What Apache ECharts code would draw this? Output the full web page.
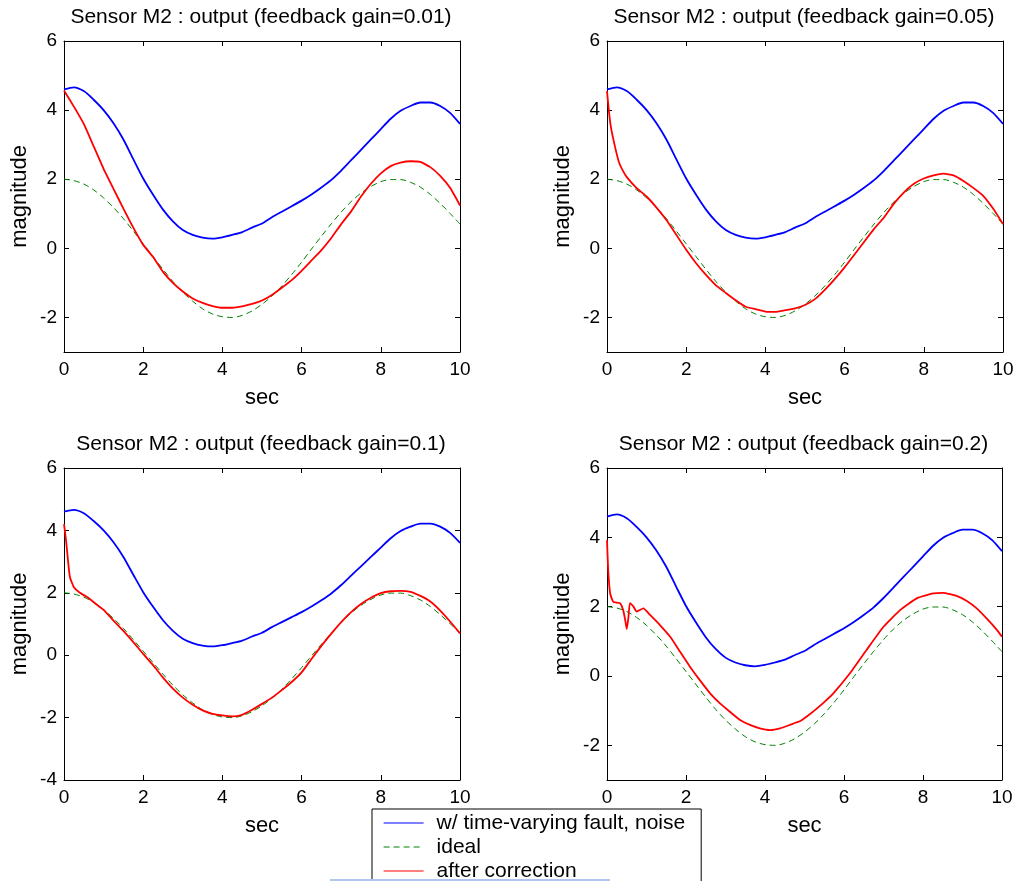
<!DOCTYPE html>
<html><head><meta charset="utf-8">
<script src="https://cdn.jsdelivr.net/npm/echarts@6/dist/echarts.min.js"></script>
<style>html,body{margin:0;padding:0;background:#fff}#c{width:1018px;height:881px}</style>
</head><body><div id="c"></div>
<script>
// ---- data ----
const panelTitles = [
  'Sensor M2 : output (feedback gain=0.01)',
  'Sensor M2 : output (feedback gain=0.05)',
  'Sensor M2 : output (feedback gain=0.1)',
  'Sensor M2 : output (feedback gain=0.2)'
];
const seriesNames = ['w/ time-varying fault, noise', 'ideal', 'after correction'];
const xTickValues = [0, 2, 4, 6, 8, 10];
const yTickValuesA = [-2, 0, 2, 4, 6];
const yTickValuesB = [-4, -2, 0, 2, 4, 6];
const yMins = [-3, -3, -4, -3];
const yMax = 6;

const tGrid = [0,0.25,0.5,0.75,1,1.25,1.5,1.75,2,2.25,2.5,2.75,3,3.25,3.5,3.75,4,4.25,4.5,4.75,5,5.25,5.5,5.75,6,6.25,6.5,6.75,7,7.25,7.5,7.75,8,8.25,8.5,8.75,9,9.25,9.5,9.75,10];
const faulty = [4.60,4.66,4.55,4.30,4.00,3.62,3.15,2.58,2.02,1.55,1.12,0.78,0.53,0.39,0.31,0.28,0.32,0.39,0.47,0.60,0.72,0.90,1.06,1.22,1.38,1.56,1.76,1.98,2.25,2.55,2.85,3.15,3.45,3.75,3.98,4.12,4.22,4.22,4.12,3.92,3.60];
const ideal = [2.00,1.96,1.86,1.69,1.46,1.18,0.86,0.50,0.13,-0.24,-0.61,-0.96,-1.27,-1.53,-1.75,-1.90,-1.98,-2.00,-1.94,-1.81,-1.62,-1.38,-1.09,-0.76,-0.40,-0.02,0.35,0.71,1.05,1.35,1.60,1.79,1.93,1.99,1.99,1.91,1.77,1.56,1.30,1.01,0.70];

const tCorr1 = tGrid;
const corr1 = [4.57,4.10,3.60,2.95,2.30,1.72,1.15,0.60,0.10,-0.25,-0.68,-1.00,-1.25,-1.45,-1.58,-1.67,-1.72,-1.72,-1.68,-1.61,-1.51,-1.35,-1.14,-0.92,-0.65,-0.35,-0.05,0.30,0.70,1.07,1.50,1.87,2.17,2.38,2.48,2.52,2.50,2.35,2.10,1.75,1.24];

const tCorr2 = [0,0.05,0.1,0.2,0.3,0.4,0.5,0.75,1,1.25,1.5,1.75,2,2.25,2.5,2.75,3,3.25,3.5,3.75,4,4.25,4.5,4.75,5,5.25,5.5,5.75,6,6.25,6.5,6.75,7,7.25,7.5,7.75,8,8.25,8.5,8.75,9,9.25,9.5,9.75,10];
const corr2 = [4.55,3.95,3.50,2.95,2.50,2.25,2.06,1.74,1.50,1.18,0.82,0.39,-0.04,-0.43,-0.77,-1.07,-1.29,-1.50,-1.69,-1.76,-1.83,-1.84,-1.79,-1.74,-1.64,-1.47,-1.20,-0.89,-0.55,-0.18,0.20,0.57,0.90,1.30,1.62,1.87,2.02,2.11,2.16,2.11,1.95,1.75,1.52,1.15,0.70];

const tCorr3 = [0,0.05,0.1,0.15,0.25,0.4,0.6,0.8,1,1.25,1.5,1.75,2,2.25,2.5,2.75,3,3.25,3.5,3.75,4,4.25,4.5,4.75,5,5.25,5.5,5.75,6,6.25,6.5,6.75,7,7.25,7.5,7.75,8,8.25,8.5,8.75,9,9.25,9.5,9.75,10];
const corr3 = [4.20,3.70,3.05,2.50,2.18,2.00,1.85,1.65,1.45,1.11,0.78,0.42,0.04,-0.32,-0.72,-1.07,-1.36,-1.59,-1.77,-1.88,-1.93,-1.96,-1.91,-1.75,-1.56,-1.36,-1.12,-0.86,-0.55,-0.12,0.30,0.69,1.06,1.38,1.64,1.84,1.99,2.05,2.06,2.03,1.90,1.72,1.43,1.08,0.70];

const tCorr4 = [0,0.03,0.08,0.16,0.33,0.41,0.46,0.50,0.54,0.58,0.67,0.75,0.92,1.09,1.34,1.6,1.85,2.1,2.35,2.61,2.86,3.11,3.37,3.62,3.87,4.13,4.38,4.63,4.89,5.1,5.31,5.52,5.73,6.15,6.57,7.0,7.42,7.84,8.26,8.51,8.85,9.1,9.36,9.61,9.87,10];
const corr4 = [3.92,3.06,2.38,2.14,2.10,1.90,1.62,1.35,1.66,2.10,2.00,1.86,1.95,1.76,1.47,1.13,0.70,0.27,-0.12,-0.50,-0.79,-1.03,-1.27,-1.41,-1.51,-1.56,-1.51,-1.41,-1.30,-1.13,-0.94,-0.73,-0.50,0.08,0.75,1.42,1.90,2.24,2.38,2.40,2.31,2.17,1.95,1.66,1.33,1.13];

const corrTimes = [tCorr1, tCorr2, tCorr3, tCorr4];
const corrVals = [corr1, corr2, corr3, corr4];

// ---- layout / style ----
const FONT = '"Liberation Sans", Arial, Helvetica, sans-serif';
const grids = [
  {left: 64, top: 41, width: 396, height: 311},
  {left: 607, top: 41, width: 396, height: 311},
  {left: 64, top: 468, width: 396, height: 312},
  {left: 607, top: 468, width: 395, height: 312}
];
const titleY = [17.5, 17.5, 444, 444];
const pairs = (xs, ys) => xs.map((x, i) => [x, ys[i]]);

const axisLineStyle = {show: true, onZero: false, lineStyle: {color: '#000', width: 1}};
const tickStyle = (vals) => ({show: true, inside: true, length: 5, lineStyle: {color: '#000'}, customValues: vals});

const xAxes = [], yAxes = [], series = [], graphics = [];
for (let i = 0; i < 4; i++) {
  const yTicks = yMins[i] === -4 ? yTickValuesB : yTickValuesA;
  xAxes.push({
    gridIndex: i, type: 'value', min: 0, max: 10, interval: 2, position: 'bottom',
    axisLine: axisLineStyle, axisTick: tickStyle(xTickValues), splitLine: {show: false},
    axisLabel: {show: true, color: '#000', fontSize: 19, fontFamily: FONT, margin: 8, customValues: xTickValues},
    name: 'sec', nameLocation: 'middle', nameGap: 35,
    nameTextStyle: {color: '#000', fontSize: 22, fontFamily: FONT}
  });
  yAxes.push({
    gridIndex: i, type: 'value', min: yMins[i], max: yMax, interval: 1, position: 'left',
    axisLine: axisLineStyle, axisTick: tickStyle(yTicks), splitLine: {show: false},
    axisLabel: {show: true, color: '#000', fontSize: 19, fontFamily: FONT, margin: 7, customValues: yTicks},
    name: 'magnitude', nameLocation: 'middle', nameGap: 33,
    nameTextStyle: {color: '#000', fontSize: 22, fontFamily: FONT}
  });
  graphics.push({
    type: 'text', x: grids[i].left + grids[i].width / 2 - 1, y: titleY[i],
    style: {text: panelTitles[i], fill: '#000', fontSize: 21, fontFamily: FONT, align: 'center', verticalAlign: 'middle'}
  });
}
for (let i = 0; i < 4; i++) {
  const yTicks = yMins[i] === -4 ? yTickValuesB : yTickValuesA;
  xAxes.push({
    gridIndex: i, type: 'value', min: 0, max: 10, interval: 2, position: 'top',
    axisLine: axisLineStyle, axisTick: tickStyle(xTickValues), splitLine: {show: false},
    axisLabel: {show: false}
  });
  yAxes.push({
    gridIndex: i, type: 'value', min: yMins[i], max: yMax, interval: 1, position: 'right',
    axisLine: axisLineStyle, axisTick: tickStyle(yTicks), splitLine: {show: false},
    axisLabel: {show: false}
  });
}
for (let i = 0; i < 4; i++) {
  series.push({
    name: seriesNames[0], type: 'line', xAxisIndex: i, yAxisIndex: i,
    data: pairs(tGrid, faulty), showSymbol: false, symbol: 'none', smooth: 0.25,
    lineStyle: {color: '#0000ff', width: 1.8}, itemStyle: {color: '#0000ff'}, z: 2
  });
  series.push({
    name: seriesNames[1], type: 'line', xAxisIndex: i, yAxisIndex: i,
    data: pairs(tGrid, ideal), showSymbol: false, symbol: 'none', smooth: 0.3,
    lineStyle: {color: '#008000', width: 1, type: [6, 4]}, itemStyle: {color: '#008000'}, z: 3
  });
  series.push({
    name: seriesNames[2], type: 'line', xAxisIndex: i, yAxisIndex: i,
    data: pairs(corrTimes[i], corrVals[i]), showSymbol: false, symbol: 'none', smooth: 0.15,
    lineStyle: {color: '#ff0000', width: 1.8}, itemStyle: {color: '#ff0000'}, z: 4
  });
}
graphics.push({
  type: 'line', shape: {x1: 330, y1: 880, x2: 610, y2: 880},
  style: {stroke: '#b4c4f0', lineWidth: 2}, z: 100
});

const chart = echarts.init(document.getElementById('c'), null, {renderer: 'canvas'});
chart.setOption({
  animation: false,
  backgroundColor: '#fff',
  grid: grids.map(g => Object.assign({containLabel: false, show: false}, g)),
  xAxis: xAxes,
  yAxis: yAxes,
  series: series,
  graphic: graphics,
  legend: {
    orient: 'vertical', left: 372, top: 809, height: 200,
    data: seriesNames,
    itemWidth: 40, itemHeight: 14, itemGap: 2,
    itemStyle: {color: 'transparent', borderWidth: 0, opacity: 0},
    lineStyle: {width: 1.2},
    backgroundColor: '#fff', borderColor: '#000', borderWidth: 1,
    padding: [3, 16, 8, 11],
    textStyle: {color: '#000', fontSize: 21, fontFamily: FONT, lineHeight: 22, padding: [0, 0, 0, 8]},
    selectedMode: false
  }
});
</script></body></html>
